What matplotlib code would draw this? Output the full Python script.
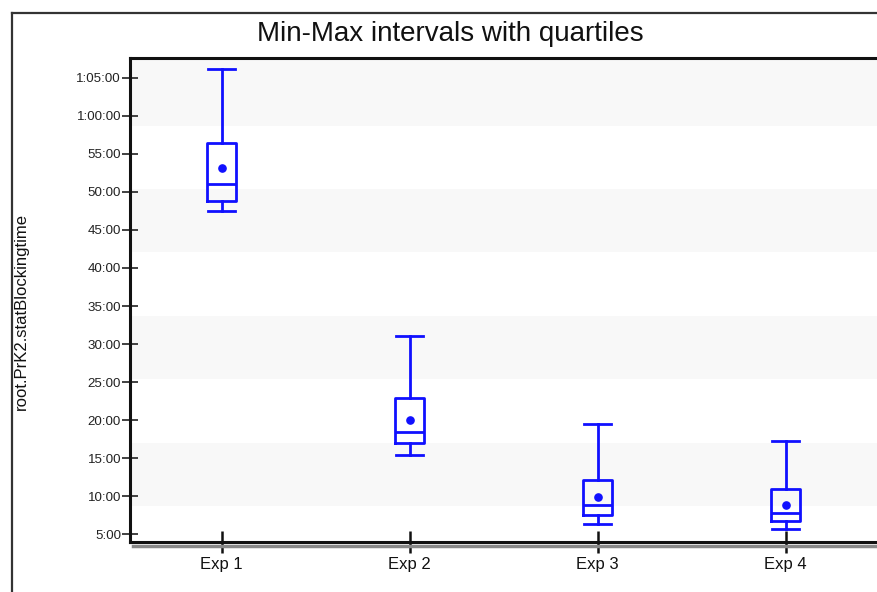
import matplotlib
matplotlib.use("Agg")
import matplotlib.pyplot as plt
from matplotlib.lines import Line2D
from matplotlib.ticker import FuncFormatter, FixedLocator

plt.rcParams['font.family'] = ['Liberation Sans', 'DejaVu Sans']

# ---- data (minutes) ----
categories = ["Exp 1", "Exp 2", "Exp 3", "Exp 4"]
mins = [47.5, 15.4, 6.3, 5.65]
q1s = [48.75, 17.0, 7.5, 6.75]
medians = [51.0, 18.4, 8.9, 7.85]
means = [53.1, 20.0, 9.9, 8.8]
q3s = [56.4, 22.85, 12.1, 10.9]
maxs = [66.15, 31.0, 19.45, 17.2]
ytick_minutes = [5, 10, 15, 20, 25, 30, 35, 40, 45, 50, 55, 60, 65]

title = "Min-Max intervals with quartiles"
ylabel = "root.PrK2.statBlockingtime"

W, H = 877, 592
fig = plt.figure(figsize=(W / 100, H / 100), dpi=100)

ax_left, ax_top, ax_bottom = 130, 58, 542
ax = fig.add_axes([ax_left / W, 1 - ax_bottom / H, 1 - ax_left / W, (ax_bottom - ax_top) / H])

blue = "#1010ff"
stats = []
for i in range(len(categories)):
    stats.append(dict(whislo=mins[i], q1=q1s[i], med=medians[i], mean=means[i],
                      q3=q3s[i], whishi=maxs[i], fliers=[], label=categories[i]))
positions = list(range(len(categories)))
ax.bxp(stats, positions=positions, widths=0.152, capwidths=0.148, showmeans=True,
       showfliers=False, patch_artist=False,
       boxprops=dict(color=blue, linewidth=2.0),
       whiskerprops=dict(color=blue, linewidth=2.0),
       capprops=dict(color=blue, linewidth=2.0),
       medianprops=dict(color=blue, linewidth=2.0),
       meanprops=dict(marker='o', markerfacecolor=blue, markeredgecolor=blue, markersize=5.2),
       zorder=3)

# axis ranges
spacing_px = 188.0
x0_px = 221.5
ax.set_xlim(-(x0_px - ax_left) / spacing_px, -(x0_px - ax_left) / spacing_px + (W - ax_left) / spacing_px)
ax.set_ylim(3.98, 67.6)

# alternating bands
band_edges = [8.68, 16.95, 25.35, 33.75, 42.15, 50.35, 58.7, 70]
for k in range(0, len(band_edges) - 1, 2):
    ax.axhspan(band_edges[k], band_edges[k + 1], color="#f8f8f8", zorder=0, lw=0)

# ticks
ax.yaxis.set_major_locator(FixedLocator(ytick_minutes))
def fmt(v, pos):
    m = int(round(v))
    if m >= 60:
        return f"{m // 60}:{m % 60:02d}:00"
    return f"{m}:00"
ax.yaxis.set_major_formatter(FuncFormatter(fmt))
ax.set_xticks(positions)
ax.set_xticklabels(categories)
ax.tick_params(axis='y', direction='inout', length=11, width=1.3, color="#333333",
               labelsize=9.6, labelcolor="#222222", pad=1)
ax.tick_params(axis='x', direction='inout', length=16, width=1.8, color="#111111",
               labelsize=12, labelcolor="#111111", pad=3)

ax.spines['right'].set_visible(False)
for s in ['left', 'top', 'bottom']:
    ax.spines[s].set_linewidth(2.2)
    ax.spines[s].set_color("#111111")

# shadow beneath bottom spine
fig.add_artist(Line2D([133 / W, 1], [1 - 546 / H, 1 - 546 / H], color="#888888", lw=2.5, zorder=1))

# outer frame (cropped)
fig.add_artist(Line2D([12 / W, 12 / W], [0, 1 - 13 / H], color="#333333", lw=1.6))
fig.add_artist(Line2D([12 / W, 1], [1 - 13 / H, 1 - 13 / H], color="#333333", lw=1.6))

fig.text(450 / W, 1 - 34 / H, title, ha='center', va='center', fontsize=20, color="#111111")
fig.text(21 / W, 1 - 311 / H, ylabel, ha='center', va='center', rotation=90, fontsize=12,
         color="#111111")

fig.savefig("out.png", dpi=100)
